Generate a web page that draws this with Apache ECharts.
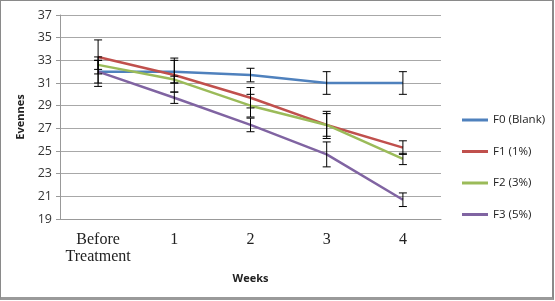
<!DOCTYPE html>
<html>
<head>
<meta charset="utf-8">
<script src="https://cdn.jsdelivr.net/npm/echarts@6/dist/echarts.min.js"></script>
<style>
html,body{margin:0;padding:0;background:#fff;}
#chart{width:551px;height:296px;border:1px solid #8a8a8a;border-right-width:2px;border-bottom-width:3px;border-bottom-color:#9a9a9a;}
</style>
</head>
<body>
<div id="chart"></div>
<script>
// categories (weeks)
var weeks = ['Before\nTreatment', '1', '2', '3', '4']
var seriesNames = ['F0 (Blank)', 'F1 (1%)', 'F2 (3%)', 'F3 (5%)']
var colors = ['#4F81BD', '#C0504D', '#9BBB59', '#8064A2']

// mean evenness per series
var f0 = [32.0, 32.0, 31.7, 31.0, 31.0]
var f1 = [33.3, 31.7, 29.7, 27.3, 25.3]
var f2 = [32.6, 31.3, 29.0, 27.3, 24.3]
var f3 = [32.0, 29.7, 27.3, 24.7, 20.7]

// error (+/-)
var f0Err = [1.0, 1.0, 0.6, 1.0, 1.0]
var f1Err = [1.5, 1.5, 0.9, 1.2, 0.6]
var f2Err = [0.4, 0.3, 1.0, 1.0, 0.5]
var f3Err = [1.3, 0.5, 0.6, 1.1, 0.6]

var yTicks = [19, 37, 2]  // min, max, step

var means = [f0, f1, f2, f3]
var errs = [f0Err, f1Err, f2Err, f3Err]

var chart = echarts.init(document.getElementById('chart'))

function errItem (params, api) {
  var x = api.value(0)
  var lo = api.coord([x, api.value(1)])
  var hi = api.coord([x, api.value(2)])
  var w = 4
  var st = {stroke: '#000', lineWidth: 1}
  return {
    type: 'group',
    children: [
      {type: 'line', shape: {x1: lo[0], y1: lo[1], x2: hi[0], y2: hi[1]}, style: st},
      {type: 'line', shape: {x1: lo[0] - w, y1: lo[1], x2: lo[0] + w, y2: lo[1]}, style: st},
      {type: 'line', shape: {x1: hi[0] - w, y1: hi[1], x2: hi[0] + w, y2: hi[1]}, style: st}
    ]
  }
}

var series = []
means.forEach(function (m, i) {
  series.push({
    name: seriesNames[i],
    type: 'line',
    data: m,
    showSymbol: false,
    symbol: 'none',
    lineStyle: {width: 2.5, color: colors[i]},
    itemStyle: {color: colors[i]},
    z: 2
  })
})
means.forEach(function (m, i) {
  series.push({
    type: 'custom',
    renderItem: errItem,
    data: m.map(function (v, j) { return [j, v - errs[i][j], v + errs[i][j]] }),
    encode: {x: 0, y: [1, 2]},
    silent: true,
    z: 5
  })
})

var option = {
  backgroundColor: '#fff',
  animation: false,
  color: colors,
  grid: {left: 59, right: 111, top: 14, bottom: 78},
  legend: {
    data: seriesNames,
    orient: 'vertical',
    left: 456,
    top: 108,
    icon: 'rect',
    itemWidth: 26,
    itemHeight: 3,
    itemGap: 19.5,
    textStyle: {fontFamily: 'Open Sans', fontSize: 11.5, color: '#222'}
  },
  xAxis: {
    type: 'category',
    data: weeks,
    name: 'Weeks',
    nameLocation: 'middle',
    nameGap: 54,
    nameTextStyle: {fontFamily: 'Open Sans', fontWeight: 'bold', fontSize: 11, color: '#222'},
    axisLine: {lineStyle: {color: '#999'}},
    axisTick: {show: false},
    axisLabel: {interval: 0, fontFamily: 'Liberation Serif', fontSize: 16, color: '#222', lineHeight: 17, margin: 12}
  },
  yAxis: {
    type: 'value',
    min: yTicks[0],
    max: yTicks[1],
    interval: yTicks[2],
    name: 'Evennes',
    nameLocation: 'middle',
    nameGap: 26,
    nameTextStyle: {fontFamily: 'Open Sans', fontWeight: 'bold', fontSize: 11, color: '#222'},
    axisLine: {show: true, lineStyle: {color: '#999'}},
    axisTick: {show: true, length: 4, lineStyle: {color: '#999'}},
    axisLabel: {fontFamily: 'Open Sans', fontSize: 12.5, color: '#333', margin: 8},
    splitLine: {lineStyle: {color: '#a8a8a8'}}
  },
  series: series
}

chart.setOption(option)
</script>
</body>
</html>
